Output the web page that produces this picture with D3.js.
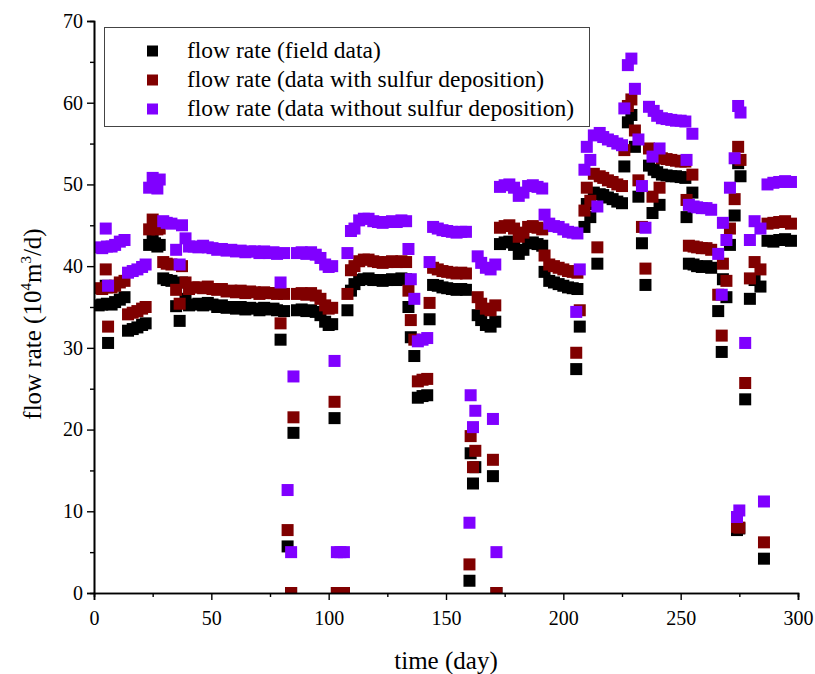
<!DOCTYPE html>
<html>
<head>
<meta charset="utf-8">
<script src="https://cdn.jsdelivr.net/npm/d3@7"></script>
<style>
  body { margin: 0; background: #fff; }
  text { font-family: "Liberation Serif", "Times New Roman", serif; fill: #000; }
</style>
</head>
<body>
<svg id="main" width="815" height="674"></svg>
<script>
// days at which the three series were sampled
const days = [2,3.5,5,5.5,6,7.5,9,11,13,14.5,16.5,18.5,20.5,22,23.5,25,26,27,28,29.5,31,33,35,36.5,37.5,39,40.5,42.5,44.5,46.5,48.5,50.5,52.5,54.5,56.5,58.5,60.5,62.5,64.5,66.5,68.5,70.5,72.5,74.5,76.5,78,79.5,81,82.5,84,85,86.5,88.5,90.5,92.5,94.5,96.5,98.5,100,101.5,102.5,103.5,105,106.5,108,109.5,111,113,115,117,119,121,123,125,127,129,131,133,134,135,136.5,138,140,142,143,144.5,146.5,148.5,150.5,152.5,154.5,156.5,158.5,160,160.5,161.5,162.5,163.5,165,167,169,170,171,171.5,173,175,177,179,181,183,185,187,189,191,192,194,196,198,200,202,204,205.5,206,207,209,210,211.5,213,214.5,215.5,217,219,221,223,225,226,227.5,229,230.5,232,233.5,235,236.5,238,238.5,240,241,242,244,246,248,250,252,252.5,253.5,255,255.5,257,259,261,263,266,267.5,268,269.5,271,273,274,274.5,275,275.5,277.5,279.5,281.5,284,285.5,287,289.5,292,294.5,297];

const fieldData = [35.2,35.3,37.6,35.4,30.6,35.3,35.6,35.9,36.2,32.1,32.3,32.5,32.8,33.0,42.6,43.3,42.8,42.4,42.6,38.5,38.3,38.2,35.1,33.3,38.0,36.0,35.2,35.3,35.4,35.2,35.5,35.3,35.0,35.2,34.9,35.0,34.8,35.0,34.7,34.9,34.8,34.6,34.9,34.7,34.8,34.6,31.0,34.5,5.7,0,19.6,34.6,34.7,34.5,34.6,34.4,34.0,33.2,32.8,32.9,21.4,0,0,0,34.6,37.0,37.8,38.3,38.4,38.5,38.3,38.3,38.2,38.3,38.4,38.3,38.5,38.4,35.0,31.3,29.0,23.9,24.1,24.2,33.5,37.7,37.6,37.4,37.3,37.2,37.1,37.2,37.1,1.5,17.1,13.4,15.4,34.0,33.4,32.8,32.6,14.3,33.2,0,42.7,42.9,43.0,42.6,41.5,42.0,42.8,42.9,42.7,42.5,39.3,38.2,38.0,37.8,37.6,37.4,37.3,27.4,37.2,32.6,44.8,47.6,46.0,49.0,40.3,48.8,48.7,48.4,48.2,47.9,47.7,52.2,57.6,58.5,54.6,48.5,42.8,37.7,52.3,46.5,51.8,51.5,47.5,51.2,51.1,51.0,51.0,50.9,50.8,46.0,40.3,49.0,40.2,40.0,39.9,40.0,39.8,34.5,29.5,38.4,36.2,42.6,46.2,7.7,52.6,7.9,51.0,23.7,36.0,38.3,37.5,4.2,43.1,43.0,43.2,43.3,43.1];

const withSulfur = [37.3,37.2,39.6,37.4,32.6,37.4,37.6,38.0,38.2,34.1,34.3,34.5,34.8,35.0,44.5,45.7,44.9,44.5,44.6,40.5,40.3,40.2,37.1,35.4,40.0,38.0,37.2,37.4,37.4,37.3,37.5,37.2,37.1,37.2,36.9,37.0,36.8,37.0,36.7,36.9,36.8,36.6,36.8,36.7,36.7,36.6,33.0,36.6,7.7,0,21.5,36.6,36.7,36.5,36.7,36.4,36.0,35.2,34.8,34.9,23.4,0,0,0,36.6,39.5,40.0,40.6,40.8,40.8,40.6,40.5,40.4,40.5,40.6,40.5,40.6,40.5,37.0,33.4,31.0,25.9,26.1,26.2,35.5,39.8,39.6,39.4,39.3,39.2,39.1,39.2,39.1,3.5,19.2,15.4,17.4,36.2,35.4,34.8,34.6,16.3,35.2,0,44.7,44.9,45.0,44.6,43.6,44.1,44.8,44.9,44.7,44.5,41.3,40.2,40.0,39.8,39.6,39.4,39.3,29.4,39.2,34.6,46.8,49.6,48.0,51.3,42.3,51.0,50.8,50.5,50.3,50.0,49.8,54.2,59.6,60.4,56.6,50.5,44.8,39.7,54.4,48.5,53.9,53.5,49.6,53.2,53.1,53.0,52.9,52.8,52.8,48.1,42.5,51.2,42.4,42.3,42.2,42.2,42.0,36.5,31.5,40.3,38.2,44.6,48.2,8.1,54.6,8.0,53.0,25.7,38.5,40.5,39.6,6.2,45.2,45.3,45.4,45.5,45.2];

const withoutSulfur = [42.3,42.2,44.6,42.4,37.6,42.4,42.6,43.0,43.2,39.2,39.4,39.6,39.9,40.2,49.6,50.8,49.8,49.5,50.6,45.5,45.3,45.2,42.0,40.2,45.0,43.4,42.4,42.4,42.3,42.5,42.3,42.2,42.0,42.1,41.9,42.0,41.8,41.9,41.7,41.8,41.8,41.6,41.8,41.6,41.7,41.5,38.0,41.6,12.6,5.0,26.5,41.6,41.7,41.5,41.7,41.4,41.0,40.2,39.9,40.0,28.4,5.0,5.0,5.0,41.6,44.3,44.6,45.6,45.8,45.8,45.5,45.4,45.3,45.4,45.5,45.4,45.6,45.5,42.1,38.4,36.0,30.8,31.0,31.2,40.5,44.8,44.6,44.4,44.3,44.2,44.1,44.2,44.2,8.6,24.2,20.3,22.3,41.2,40.4,39.8,39.6,21.3,40.2,5.0,49.7,49.9,50.0,49.6,48.6,49.0,49.8,49.9,49.7,49.5,46.3,45.2,44.9,44.8,44.5,44.2,44.1,34.4,44.0,39.6,51.8,54.6,53.0,56.0,47.3,56.3,55.8,55.5,55.3,55.0,54.8,59.3,64.6,65.4,61.7,55.5,49.8,44.7,59.5,53.4,59.0,58.4,54.4,58.1,58.0,57.9,57.8,57.8,57.7,53.0,47.5,56.2,47.3,47.2,47.1,47.1,46.9,41.5,36.5,45.3,43.2,49.6,53.2,9.3,59.6,10.1,58.8,30.6,43.2,45.5,44.6,11.2,50.0,50.2,50.3,50.4,50.3];

const seriesNames = ["flow rate (field data)", "flow rate (data with sulfur deposition)", "flow rate (data without sulfur deposition)"];
const seriesColors = ["#000000", "#800000", "#8000ff"];
const xTicks = [0, 50, 100, 150, 200, 250, 300];
const yTicks = [0, 10, 20, 30, 40, 50, 60, 70];

const svg = d3.select("#main");
const plotLeft = 94, plotRight = 798, plotTop = 21, plotBottom = 593;
const markerSize = 12;
const serif = "'Liberation Serif', 'Times New Roman', serif";

let xScale = d3.scaleLinear().domain([0, 300]).range([plotLeft, plotRight]);
let yScale = d3.scaleLinear().domain([0, 70]).range([plotBottom, plotTop]);

svg.append("rect").attr("width", 815).attr("height", 674).attr("fill", "#fff");

svg.append("clipPath").attr("id", "plotClip")
    .append("rect").attr("x", plotLeft).attr("y", plotTop - 10)
    .attr("width", plotRight - plotLeft).attr("height", plotBottom - plotTop + 10);

// markers: field data first, purple on top
const allSeries = [fieldData, withSulfur, withoutSulfur];
const plot = svg.append("g").attr("clip-path", "url(#plotClip)");
allSeries.forEach((vals, s) => {
    plot.append("g").selectAll("rect")
        .data(vals)
        .enter()
        .append("rect")
        .attr("x", (d, i) => xScale(days[i]) - markerSize / 2)
        .attr("y", d => yScale(d) - markerSize / 2)
        .attr("width", markerSize)
        .attr("height", markerSize)
        .attr("fill", seriesColors[s]);
});

// axes
let x_axis = d3.axisBottom(xScale).tickValues(xTicks).tickSize(7).tickPadding(11).tickFormat(d3.format("d"));
let x_minor = d3.axisBottom(xScale).tickValues(d3.range(25, 300, 50)).tickSize(4).tickFormat("");
let y_axis = d3.axisLeft(yScale).tickValues(yTicks).tickSize(7).tickPadding(4).tickFormat(d3.format("d"));
let y_minor = d3.axisLeft(yScale).tickValues(d3.range(5, 70, 10)).tickSize(4).tickFormat("");

function styleAxis(g) {
    g.attr("font-family", serif).attr("font-size", 20);
    g.select(".domain").attr("stroke", "#000").attr("stroke-width", 1.6);
    g.selectAll(".tick line").attr("stroke", "#000").attr("stroke-width", 1.4);
    g.selectAll(".tick text").style("font-family", serif).style("font-size", "20px").attr("fill", "#000");
}

svg.append("g").attr("transform", `translate(0,${plotBottom})`).call(x_minor).call(styleAxis);
svg.append("g").attr("transform", `translate(0,${plotBottom})`).call(x_axis).call(styleAxis);
svg.append("g").attr("transform", `translate(${plotLeft},0)`).call(y_minor).call(styleAxis);
svg.append("g").attr("transform", `translate(${plotLeft},0)`).call(y_axis).call(styleAxis);

// axis titles
svg.append("text")
    .attr("x", 446).attr("y", 669)
    .attr("text-anchor", "middle")
    .style("font-size", "25px")
    .text("time (day)");

const yLab = svg.append("text")
    .attr("transform", `translate(41,324) rotate(-90)`)
    .attr("text-anchor", "middle")
    .style("font-size", "25px");
yLab.append("tspan").text("flow rate (10");
yLab.append("tspan").attr("dy", -10).style("font-size", "15px").text("4");
yLab.append("tspan").attr("dy", 10).text("m");
yLab.append("tspan").attr("dy", -10).style("font-size", "15px").text("3");
yLab.append("tspan").attr("dy", 10).text("/d)");

// legend
const legend = svg.append("g");
legend.append("rect")
    .attr("x", 104.5).attr("y", 27.5).attr("width", 485).attr("height", 99)
    .attr("fill", "#fff").attr("stroke", "#444").attr("stroke-width", 1);
seriesNames.forEach((name, i) => {
    const cy = 51 + i * 29;
    legend.append("rect")
        .attr("x", 147).attr("y", cy - 5.5).attr("width", 11).attr("height", 11)
        .attr("fill", seriesColors[i]);
    legend.append("text")
        .attr("x", 187).attr("y", cy + 7)
        .style("font-size", "23.5px")
        .text(name);
});
</script>
</body>
</html>
